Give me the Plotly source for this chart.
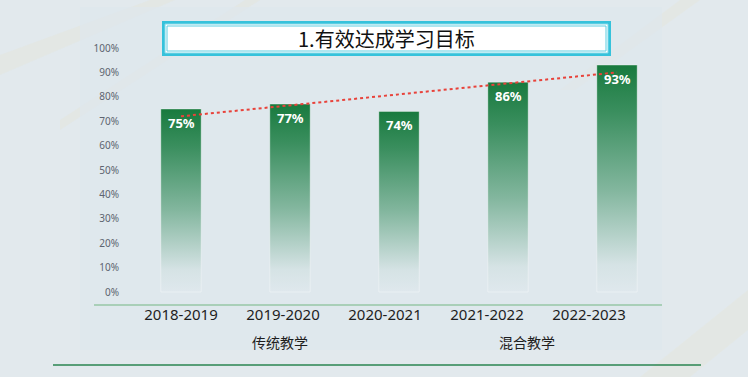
import numpy as np
import plotly.graph_objects as go

# ---- data ----
years = ["2018-2019", "2019-2020", "2020-2021", "2021-2022", "2022-2023"]
rates = [0.75, 0.77, 0.74, 0.86, 0.93]
rate_labels = ["75%", "77%", "74%", "86%", "93%"]
groups = ["传统教学", "混合教学"]
y_ticks = [0, 0.1, 0.2, 0.3, 0.4, 0.5, 0.6, 0.7, 0.8, 0.9, 1.0]
title_text = "1.有效达成学习目标"

FONT = "Noto Sans, Noto Sans CJK SC, sans-serif"
CJK = "Noto Sans CJK SC, Noto Sans, sans-serif"
W, H = 748, 377
L, R, T, B = 94, 86, 40, 73
HALF = 0.185

fig = go.Figure()

pos = np.arange(len(years))
# gradient bars
for i, v in zip(pos, rates):
    fig.add_trace(go.Scatter(
        x=[i - HALF, i + HALF, i + HALF, i - HALF, i - HALF],
        y=[0, 0, v, v, 0],
        mode="lines", fill="toself",
        line=dict(color="rgba(255,255,255,0.35)", width=1),
        fillgradient=dict(type="vertical", colorscale=[
            [0.0, "rgba(30,128,72,0)"],
            [0.12, "rgba(30,128,72,0.05)"],
            [0.45, "rgba(30,128,72,0.48)"],
            [0.8, "rgba(28,126,68,0.85)"],
            [1.0, "rgba(24,122,62,1)"]]),
        hoverinfo="skip", showlegend=False))

# linear trend line (least squares)
k, b0 = np.polyfit(pos, rates, 1)
fig.add_trace(go.Scatter(
    x=[pos[0], pos[-1]], y=[k * pos[0] + b0, k * pos[-1] + b0],
    mode="lines", line=dict(color="#e8423a", width=2, dash="dot"),
    hoverinfo="skip", showlegend=False))

# category labels on a secondary x axis
fig.add_trace(go.Scatter(x=years, y=[None] * len(years), xaxis="x2",
                         mode="markers", showlegend=False, hoverinfo="skip"))

px_per = 109.0
x0 = (L - 181) / px_per
x1 = (W - R - 181) / px_per
lab_per = 102.0
xl0 = (L - 181) / lab_per
xl1 = (W - R - 181) / lab_per

fig.update_layout(
    width=W, height=H,
    margin=dict(l=L, r=R, t=T, b=B),
    paper_bgcolor="#e2e9ed", plot_bgcolor="rgba(0,0,0,0)",
    xaxis=dict(range=[x0, x1], showticklabels=False, showgrid=False,
               zeroline=False, showline=True, linecolor="#a9cfb8", linewidth=1.5,
               ticks=""),
    xaxis2=dict(overlaying="x", anchor="y", side="bottom", type="category",
                range=[xl0, xl1], showgrid=False, zeroline=False, showline=False,
                ticks="", tickfont=dict(family=FONT, size=15, color="#1e1e1e")),
    yaxis=dict(range=[-12 / 244, 1 + 8 / 244], tickvals=y_ticks, tickformat=".0%",
               showgrid=False, zeroline=False, showline=False, ticks="",
               anchor="free", position=0.044,
               tickfont=dict(family=FONT, size=10, color="#5d6470")),
    font=dict(family=FONT),
)


def px(x, y):
    return (x - L) / (W - L - R), (H - B - y) / (H - T - B)


def path(points):
    s = ""
    for j, (x, y) in enumerate(points):
        a, c = px(x, y)
        s += ("M" if j == 0 else "L") + f"{a:.4f},{c:.4f}"
    return s + "Z"


shapes = []
stripes = [
    [(0, 55), (0, 75), (175, 0), (150, 0)],
    [(60, 120), (60, 130), (260, 0), (245, 0)],
    [(560, 90), (575, 90), (700, 0), (680, 0)],
    [(640, 377), (690, 377), (748, 330), (748, 290)],
]
for st in stripes:
    shapes.append(dict(type="path", xref="paper", yref="paper", path=path(st),
                       fillcolor="rgba(232,228,205,0.25)", line=dict(width=0),
                       layer="below"))
# lighter panel
a0, c0 = px(80, 350)
a1, c1 = px(662, 7)
shapes.append(dict(type="rect", xref="paper", yref="paper", x0=a0, y0=c0, x1=a1, y1=c1,
                   fillcolor="rgba(222,231,236,0.7)", line=dict(width=0), layer="below"))
# bottom rule
a0, c0 = px(53, 365)
a1, _ = px(701, 365)
shapes.append(dict(type="line", xref="paper", yref="paper", x0=a0, x1=a1, y0=c0, y1=c0,
                   line=dict(color="#2a8550", width=1.3)))
# title box
a0, c0 = px(162, 56)
a1, c1 = px(611, 21)
shapes.append(dict(type="rect", xref="paper", yref="paper", x0=a0, y0=c0, x1=a1, y1=c1,
                   fillcolor="#36c2db", line=dict(width=0)))
a0, c0 = px(165, 53)
a1, c1 = px(608, 24)
shapes.append(dict(type="rect", xref="paper", yref="paper", x0=a0, y0=c0, x1=a1, y1=c1,
                   fillcolor="#ffffff", line=dict(color="#7fd8e8", width=1)))
a0, c0 = px(167, 51)
a1, c1 = px(606, 26)
shapes.append(dict(type="rect", xref="paper", yref="paper", x0=a0, y0=c0, x1=a1, y1=c1,
                   fillcolor="#ffffff", line=dict(color="#5fcde1", width=1)))
fig.update_layout(shapes=shapes)

ann = []
# value labels inside the top of each bar
for i, v, t in zip(pos, rates, rate_labels):
    ann.append(dict(x=i, y=v, xref="x", yref="y", text=t, showarrow=False,
                    yshift=-14, xanchor="center", yanchor="middle",
                    font=dict(family=FONT, size=13, color="white", weight="bold")))
tx, ty = px(386, 38)
ann.append(dict(xref="paper", yref="paper", x=tx, y=ty, text=title_text, showarrow=False,
                font=dict(family=CJK, size=20, color="#111111"), xanchor="center", yanchor="middle"))
for g, gx in zip(groups, [280, 527]):
    ax_, ay_ = px(gx, 342)
    ann.append(dict(xref="paper", yref="paper", x=ax_, y=ay_, text=g, showarrow=False,
                    font=dict(family=CJK, size=14, color="#1e1e1e"),
                    xanchor="center", yanchor="middle"))
fig.update_layout(annotations=ann)

fig.write_html("out.html", config={"displayModeBar": False},
               post_script="document.body.style.margin='0';")
